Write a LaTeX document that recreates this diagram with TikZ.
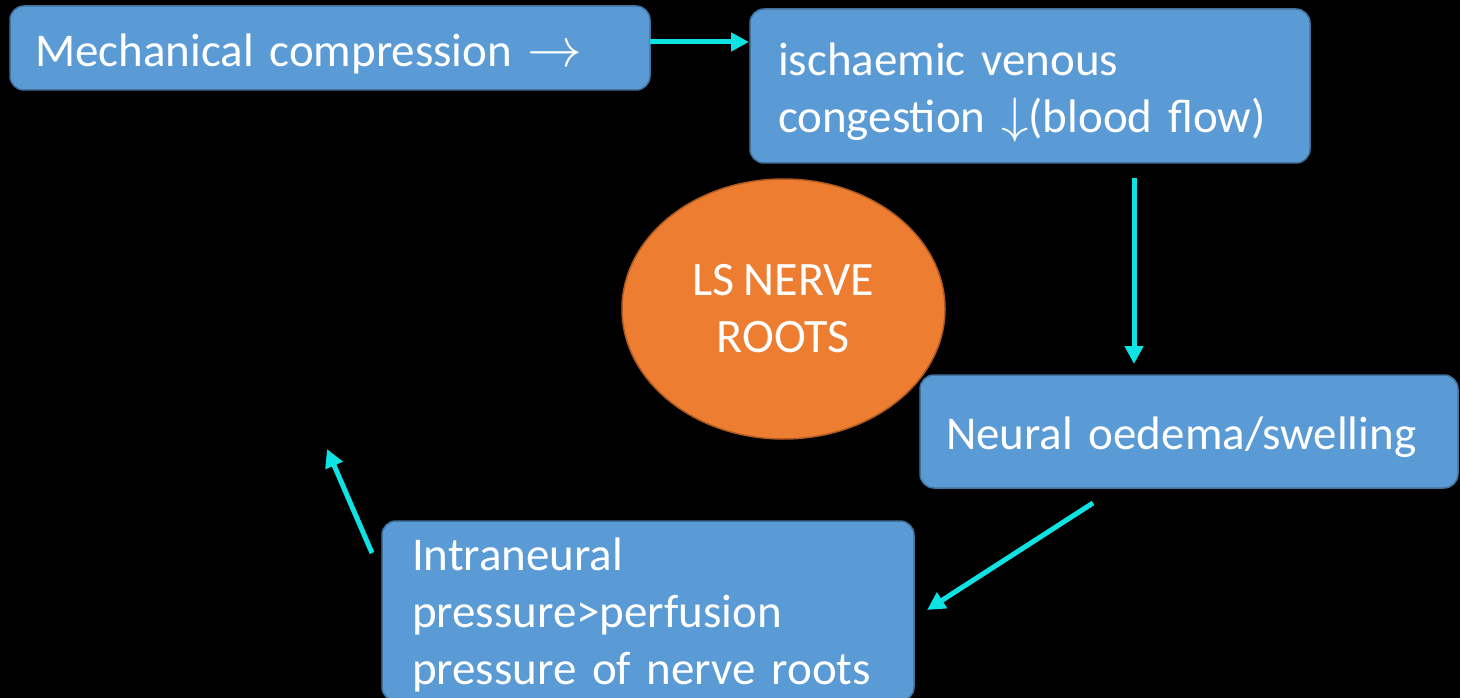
\documentclass[tikz,border=0pt]{standalone}
\usepackage{fontspec}
\setmainfont{Carlito}[WordSpace=0.8]
\usetikzlibrary{arrows.meta,shapes.geometric}
\definecolor{boxfill}{RGB}{91,155,213}
\definecolor{boxline}{RGB}{65,113,156}
\definecolor{ovalfill}{RGB}{237,125,49}
\definecolor{ovalline}{RGB}{174,90,33}
\definecolor{arrowcyan}{RGB}{14,226,226}
\newcommand{\rarr}{\scalebox{2.2}{$\rightarrow$}}
\newcommand{\darr}{\scalebox{2.2}[2.0]{$\downarrow$}}
\tikzset{
  stepbox/.style={draw=boxline, line width=1.5pt, fill=boxfill, rounded corners=14pt,
    text=white, align=left, inner xsep=0pt, inner ysep=0pt,
    font=\fontsize{47}{57}\selectfont},
  oval/.style={ellipse, draw=ovalline, line width=1.5pt, fill=ovalfill, text=white,
    align=center, font=\fontsize{48}{57}\selectfont, inner sep=0pt},
  flow/.style={draw=arrowcyan, line width=5pt, -{Triangle[length=18pt,width=18pt]}}
}
\begin{document}
\begin{tikzpicture}[x=1pt,y=-1pt]
\useasboundingbox (0,0) rectangle (1460,698);
\fill[black] (0,0) rectangle (1460,698);
\node[stepbox, minimum width=640pt, minimum height=84pt, text width=590pt] (mech) at (330,48)
  {\rule{0pt}{44pt}Mechanical compression \rarr};
\node[stepbox, minimum width=560pt, minimum height=154pt, text width=504pt] (isch) at (1030,86)
  {\rule{0pt}{46pt}ischaemic venous\\congestion \darr(blood flow)};
\node[oval, minimum width=323pt, minimum height=260pt] (ls) at (783.5,309)
  {LS NERVE\\ROOTS};
\node[stepbox, minimum width=538pt, minimum height=113pt, text width=486pt] (neural) at (1189,431.5)
  {\rule{0pt}{44pt}Neural oedema/swelling};
\node[stepbox, minimum width=532pt, minimum height=180pt, text width=472pt] (intra) at (648,611)
  {\rule{0pt}{40pt}Intraneural\\pressure>perfusion\\pressure of nerve roots};
\coordinate (a1s) at (650,42);
\coordinate (a1e) at (749,42);
\coordinate (a2s) at (1134,178);
\coordinate (a2e) at (1134,364);
\coordinate (a3s) at (1093,503);
\coordinate (a3e) at (927,610);
\coordinate (a4s) at (372,553);
\coordinate (a4e) at (327,449);
\draw[flow] (a1s) -- (a1e);
\draw[flow] (a2s) -- (a2e);
\draw[flow] (a3s) -- (a3e);
\draw[flow] (a4s) -- (a4e);
\end{tikzpicture}
\end{document}
